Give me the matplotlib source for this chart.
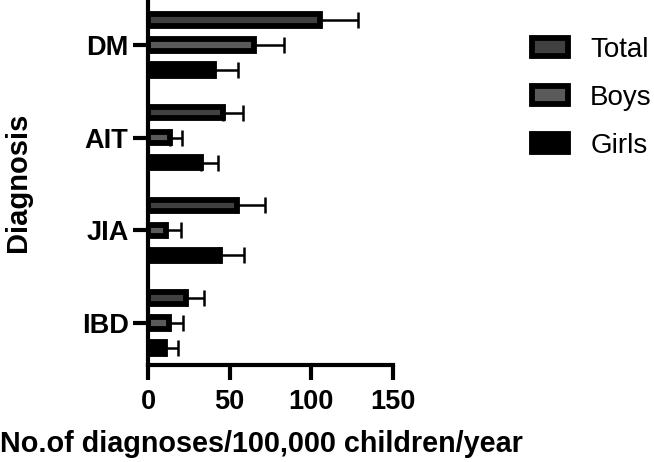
import matplotlib
matplotlib.use("Agg")
import matplotlib.pyplot as plt
import numpy as np

plt.rcParams['font.family'] = ['Liberation Sans', 'DejaVu Sans']

diagnoses = ['DM', 'AIT', 'JIA', 'IBD']
series = ['Total', 'Boys', 'Girls']
total = [105.5, 46, 54.5, 23.5]
total_err = [23, 12.3, 17, 10.8]
boys = [65, 13.5, 11, 13]
boys_err = [18.5, 7.2, 9, 8.4]
girls = [40.5, 32.5, 44, 10.5]
girls_err = [14.7, 10.4, 15, 7.8]

fills = ['#404040', '#5a5a5a', '#000000']

fig = plt.figure(figsize=(6.54, 4.62), dpi=100)
ax = fig.add_axes([0.2263, 0.21, 0.3748, 0.79])

centers = np.arange(len(diagnoses))[::-1]
offsets = [0.27, 0.0, -0.27]
bh = 0.122

for vals, errs, off, col, name in zip([total, boys, girls], [total_err, boys_err, girls_err],
                                      offsets, fills, series):
    ax.barh(centers + off, vals, height=bh, color=col, edgecolor='black',
            linewidth=4.2, label=name, zorder=2)
    ax.errorbar(vals, centers + off, xerr=[np.zeros(len(errs)), errs], fmt='none',
                ecolor='black', elinewidth=1.8, capsize=6, capthick=1.8, zorder=1)

ax.set_xlim(0, 150)
ax.set_ylim(-0.453, 3.485)
ax.set_xticks([0, 50, 100, 150])
ax.set_yticks(centers)
ax.set_yticklabels(diagnoses)

for s in ['top', 'right']:
    ax.spines[s].set_visible(False)
for s in ['left', 'bottom']:
    ax.spines[s].set_linewidth(3)
ax.tick_params(axis='both', width=3, length=11, labelsize=19.5)
ax.tick_params(axis='x', pad=6)
ax.tick_params(axis='y', pad=3)
for lab in ax.get_xticklabels() + ax.get_yticklabels():
    lab.set_fontweight('bold')

ax.set_xlabel('No.of diagnoses/100,000 children/year', fontsize=20.7, fontweight='bold')
ax.xaxis.set_label_coords(0.462, -0.178)
ax.set_ylabel('Diagnosis', fontsize=21, fontweight='bold', labelpad=36)

fig.legend(loc='upper left', bbox_to_anchor=(0.775, 0.975), frameon=False, fontsize=20,
           handlelength=1.3, handleheight=0.6, labelspacing=0.8, handletextpad=0.8)

fig.savefig('out.png', dpi=100)
